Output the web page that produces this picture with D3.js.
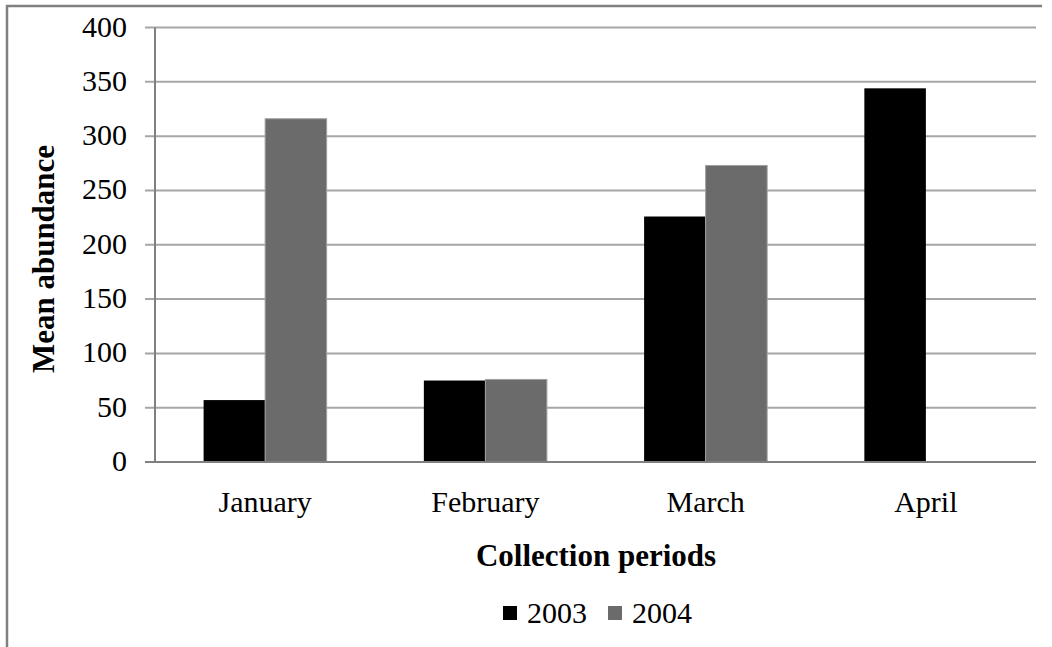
<!DOCTYPE html>
<meta charset="utf-8">
<head>
	<style>
		body { margin: 0; background: #fff; }
		text { font-family: "Liberation Serif", "Times New Roman", serif; fill: #000; }
		.grid line { stroke: #a6a6a6; stroke-width: 2; }
		.bold { font-weight: bold; }
	</style>
	<script src="https://cdn.jsdelivr.net/npm/d3@7"></script>
</head>
<body></body>
<script>

	var months = ["January", "February", "March", "April"],
			series = ["2003", "2004"],
			values2003 = [57, 75, 226, 344],
			values2004 = [316, 76, 273, null],
			yTicks = [0, 50, 100, 150, 200, 250, 300, 350, 400];

	var colors = {"2003": "#000000", "2004": "#6b6b6b"};

	var width = 1052,
			height = 647,
			plotLeft = 155, plotRight = 1036,
			plotTop = 27.5, plotBottom = 462;

	var svg = d3.select("body").append("svg")
		.attr("width", width)
		.attr("height", height);

	// frame (only left and top edges show in the original)
	svg.append("line").attr("x1", 7).attr("x2", 7).attr("y1", 5).attr("y2", height)
		.attr("stroke", "#808080").attr("stroke-width", 2.5);
	svg.append("line").attr("x1", 6).attr("x2", 1042).attr("y1", 6).attr("y2", 6)
		.attr("stroke", "#808080").attr("stroke-width", 2.5);

	var y = d3.scaleLinear().domain([0, 400]).range([plotBottom, plotTop]);
	var x0 = d3.scaleBand().domain(months).range([plotLeft, plotRight]);
	var x1 = d3.scaleBand().domain(series).range([0, x0.bandwidth()]).paddingOuter(0.79);

	// gridlines + y ticks
	var grid = svg.append("g").attr("class", "grid");
	grid.selectAll("line")
		.data(yTicks)
	  .enter().append("line")
		.attr("x1", plotLeft - 10)
		.attr("x2", plotRight)
		.attr("y1", function(d) {return y(d)})
		.attr("y2", function(d) {return y(d)});

	svg.append("g").selectAll("text")
		.data(yTicks)
	  .enter().append("text")
		.attr("x", 127)
		.attr("y", function(d) {return y(d)})
		.attr("dy", "0.3em")
		.attr("text-anchor", "end")
		.style("font-size", "30px")
		.text(function(d) {return d});

	// bars
	var rows = months.map(function(m, i) {
		return {month: m, vals: [{s: "2003", v: values2003[i]}, {s: "2004", v: values2004[i]}]};
	});

	svg.append("g").selectAll("g")
		.data(rows)
	  .enter().append("g")
		.attr("transform", function(d) {return "translate(" + x0(d.month) + ",0)"})
		.selectAll("rect")
		.data(function(d) {return d.vals.filter(function(e) {return e.v != null})})
	  .enter().append("rect")
		.attr("x", function(d) {return x1(d.s)})
		.attr("width", x1.bandwidth())
		.attr("y", function(d) {return y(d.v)})
		.attr("height", function(d) {return y(0) - y(d.v)})
		.attr("fill", function(d) {return colors[d.s]})
		.attr("stroke", function(d) {return d.s == "2004" ? "#a0a0a0" : "none"})
		.attr("stroke-width", 1);

	// axes lines
	svg.append("line").attr("x1", plotLeft).attr("x2", plotLeft).attr("y1", plotTop).attr("y2", plotBottom)
		.attr("stroke", "#808080").attr("stroke-width", 2);
	svg.append("line").attr("x1", plotLeft - 10).attr("x2", plotRight).attr("y1", plotBottom).attr("y2", plotBottom)
		.attr("stroke", "#808080").attr("stroke-width", 2);

	// month labels
	svg.append("g").selectAll("text")
		.data(months)
	  .enter().append("text")
		.attr("x", function(d) {return x0(d) + x0.bandwidth() / 2})
		.attr("y", 512)
		.attr("text-anchor", "middle")
		.style("font-size", "30px")
		.text(function(d) {return d});

	svg.append("text")
		.attr("class", "bold")
		.attr("x", 596).attr("y", 566)
		.attr("text-anchor", "middle")
		.style("font-size", "31px")
		.text("Collection periods");

	svg.append("text")
		.attr("class", "bold")
		.attr("transform", "translate(54,259)rotate(-90)")
		.attr("text-anchor", "middle")
		.style("font-size", "31px")
		.text("Mean abundance");

	// legend
	var legend = svg.append("g").selectAll("g")
		.data(series)
	  .enter().append("g")
		.attr("transform", function(d, i) {return "translate(" + (503 + i * 105) + ",0)"});
	legend.append("rect")
		.attr("y", 606).attr("width", 14).attr("height", 14)
		.attr("fill", function(d) {return colors[d]});
	legend.append("text")
		.attr("x", 24).attr("y", 623)
		.style("font-size", "30px")
		.text(function(d) {return d});

</script>
